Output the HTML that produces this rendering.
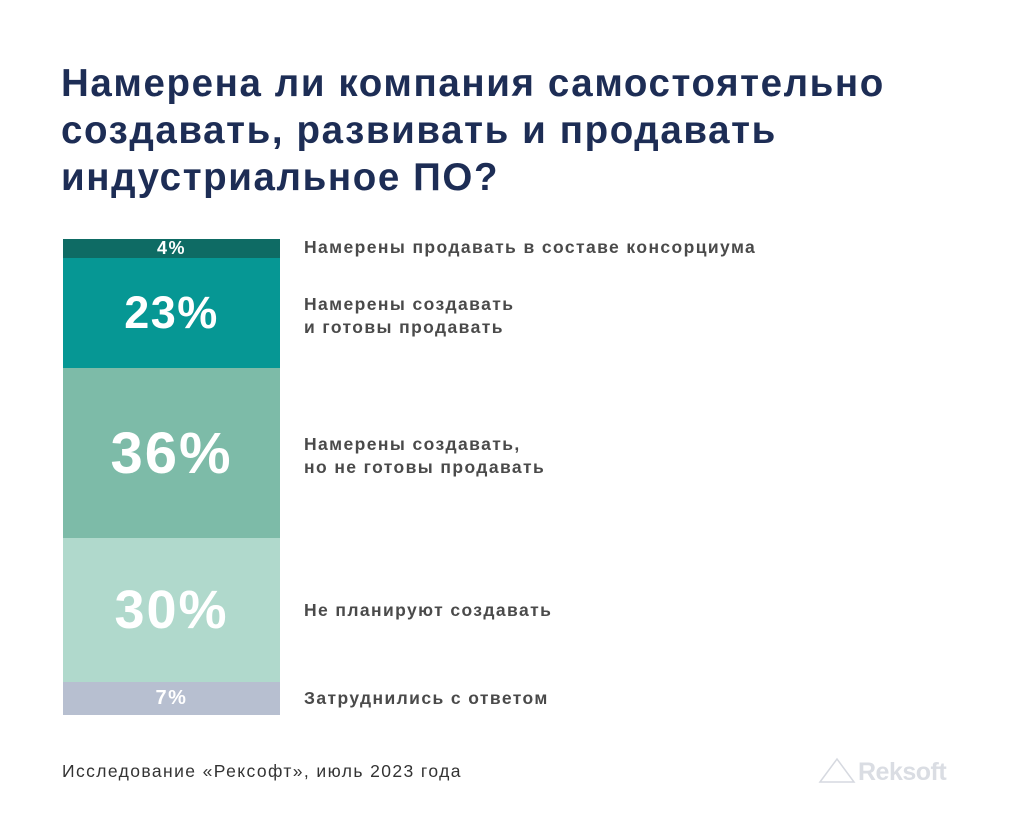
<!DOCTYPE html>
<html><head><meta charset="utf-8"><style>
body{margin:0;width:1024px;height:835px;background:#fff;font-family:"Liberation Sans","DejaVu Sans",sans-serif;position:relative;overflow:hidden}
.t{position:absolute;left:61px;top:60px;font-size:38.5px;font-weight:bold;color:#1d2d55;line-height:47px;letter-spacing:1.6px}
.s{position:absolute;left:63px;width:217px;color:#fff;font-weight:bold;text-align:center;display:flex;align-items:center;justify-content:center;letter-spacing:1.5px}
.l{position:absolute;left:304px;font-size:17.5px;font-weight:bold;color:#4a4a4a;line-height:23px;letter-spacing:1.4px}
</style></head><body>
<div class="t">Намерена ли компания самостоятельно<br>создавать, развивать и продавать<br>индустриальное ПО?</div>
<div class="s" style="top:239px;height:19px;background:#0e6b64;font-size:18px">4%</div>
<div class="s" style="top:258px;height:110px;background:#069794;font-size:45px">23%</div>
<div class="s" style="top:368px;height:170px;background:#7dbba8;font-size:58px;letter-spacing:2px">36%</div>
<div class="s" style="top:538px;height:144px;background:#b0d9cc;font-size:54px;letter-spacing:2px">30%</div>
<div class="s" style="top:682px;height:33px;background:#b7bfd0;font-size:20px">7%</div>
<div class="l" style="top:236px">Намерены продавать в составе консорциума</div>
<div class="l" style="top:293px">Намерены создавать<br>и готовы продавать</div>
<div class="l" style="top:433px">Намерены создавать,<br>но не готовы продавать</div>
<div class="l" style="top:599px">Не планируют создавать</div>
<div class="l" style="top:687px">Затруднились с ответом</div>
<div style="position:absolute;left:62px;top:761px;font-size:17.5px;color:#333;letter-spacing:1.4px">Исследование «Рексофт», июль 2023 года</div>
<svg style="position:absolute;left:818px;top:756px" width="40" height="28"><polygon points="2,26 19,3 36,26" fill="none" stroke="#d6d9e0" stroke-width="1.5"/></svg>
<div style="position:absolute;left:858px;top:758px;font-size:25px;font-weight:bold;color:#dadde3;letter-spacing:-0.5px">Reksoft</div>
</body></html>
